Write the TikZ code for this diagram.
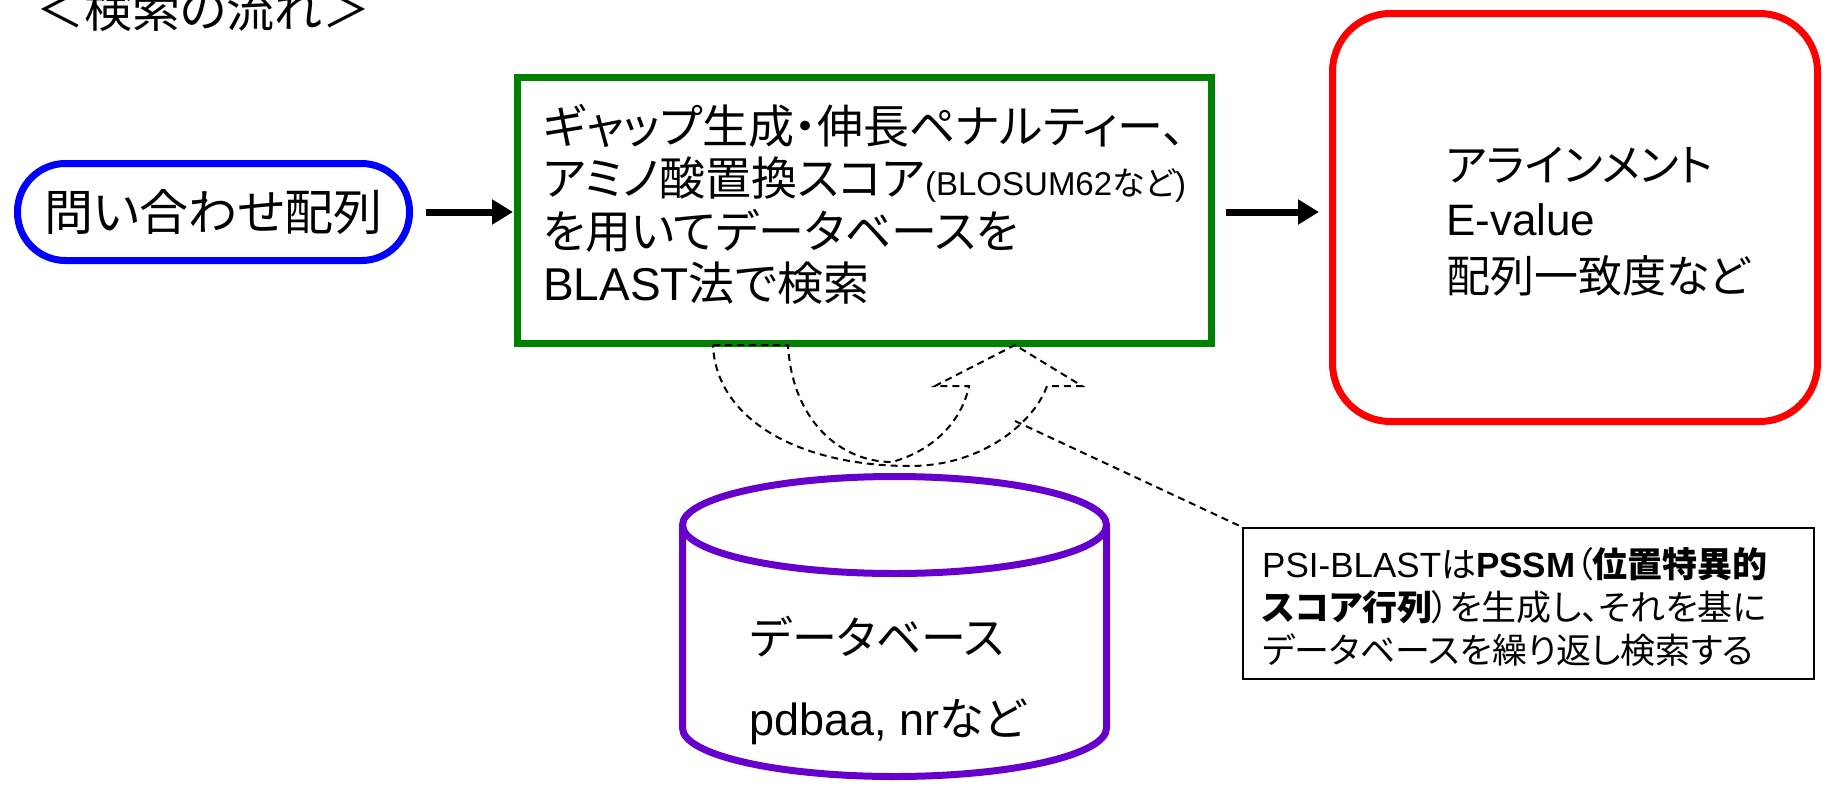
\documentclass[tikz,border=0pt]{standalone}
\usepackage{fontspec}
\setmainfont{Noto Sans CJK JP}[RawFeature=+palt]
\newfontfamily\lat{Liberation Sans}
\usetikzlibrary{arrows.meta,calc}
\newcommand\setfs[1]{\fontsize{#1}{#1}\selectfont}
\definecolor{gboxc}{RGB}{0,128,0}
\definecolor{bluec}{RGB}{0,0,255}
\definecolor{redc}{RGB}{255,0,0}
\definecolor{purc}{RGB}{102,0,204}
\tikzset{
  txt/.style={anchor=base west, inner sep=0pt, font=\setfs{44}},
  gtxt/.style={anchor=base west, inner sep=0pt, font=\setfs{46}},
  smalltxt/.style={anchor=base west, inner sep=0pt, font=\setfs{35}},
  fatarrow/.style={line width=7pt, -{Triangle[length=21pt,width=24pt]}},
  dashline/.style={line width=2pt, dash pattern=on 7pt off 5pt},
  dbline/.style={draw=purc, line width=7pt},
}
\begin{document}
\begin{tikzpicture}[x=1pt,y=1pt]
\useasboundingbox (0,0) rectangle (1839,-785);
% title
\node[anchor=base west, inner sep=0pt, font=\setfs{48}] (title) at (36,-27) {＜検索の流れ＞};
% query
\node[draw=bluec, line width=7pt, rounded corners=48pt, minimum width=392pt, minimum height=97pt, inner sep=0pt, font=\setfs{49}] (query) at (213.5,-212) {問い合わせ配列};
% search box
\node[draw=gboxc, line width=7pt, minimum width=694pt, minimum height=266pt, inner sep=0pt] (search) at (864.5,-210.5) {};
\node[gtxt] (s1) at (543,-143) {ギャップ生成・伸長ペナルティー、};
\node[gtxt] (s2) at (543,-195) {アミノ酸置換スコア{\setfs{33}\lat(BLOSUM62}{\setfs{33}など}{\setfs{33}\lat)}};
\node[gtxt] (s3) at (543,-248) {を用いてデータベースを};
\node[gtxt] (s4) at (543,-300) {{\lat BLAST}法で検索};
% result box
\node[draw=redc, line width=7pt, rounded corners=58pt, minimum width=485pt, minimum height=408pt, inner sep=0pt] (result) at (1575,-217.5) {};
\node[txt] (r1) at (1446,-181) {アラインメント};
\node[txt] (r2) at (1446,-235) {\lat E-value};
\node[txt] (r3) at (1446,-292) {配列一致度など};
% arrows
\draw[fatarrow] ([xshift=13pt]query.east) -- ([xshift=-1pt]search.west |- query.east);
\draw[fatarrow] ([xshift=11pt]search.east |- query.east) -- ($(result.west |- query.east)+(-10,0)$);
% database cylinder
\draw[dbline, fill=white] (682.5,-525) -- (682.5,-728) arc[start angle=180, end angle=360, x radius=212, y radius=48.5] -- (1106.5,-525);
\draw[dbline] (894.5,-525) ellipse[x radius=212, y radius=48.5];
\node[txt, font=\setfs{45}] (d1) at (750,-654) {データベース};
\node[txt, font=\setfs{45}] (d2) at (749,-735) {{\lat pdbaa, nr}など};
% curved hollow dashed arrow
\draw[dashline] (713,-345) -- (788,-345)
  .. controls (792,-420) and (840,-462) .. (892,-462)
  .. controls (935,-450) and (962,-420) .. (969,-386)
  -- (935,-386) -- (1015,-345) -- (1082,-386) -- (1047,-386)
  .. controls (1035,-420) and (985,-466) .. (910,-466)
  .. controls (800,-466) and (716,-420) .. cycle;
% callout
\node[draw, line width=2pt, minimum width=571pt, minimum height=151pt, inner sep=0pt] (note) at (1528.5,-603.5) {};
\node[smalltxt] (n1) at (1262,-577) {{\lat PSI-BLAST}は{\lat\bfseries PSSM}（\textbf{位置特異的}};
\node[smalltxt] (n2) at (1262,-620) {\textbf{スコア行列}）を生成し、それを基に};
\node[smalltxt] (n3) at (1262,-663) {データベースを繰り返し検索する};
\coordinate (lead) at (1015,-421);
\draw[dashline] (lead) -- (note.north west);
\end{tikzpicture}
\end{document}
